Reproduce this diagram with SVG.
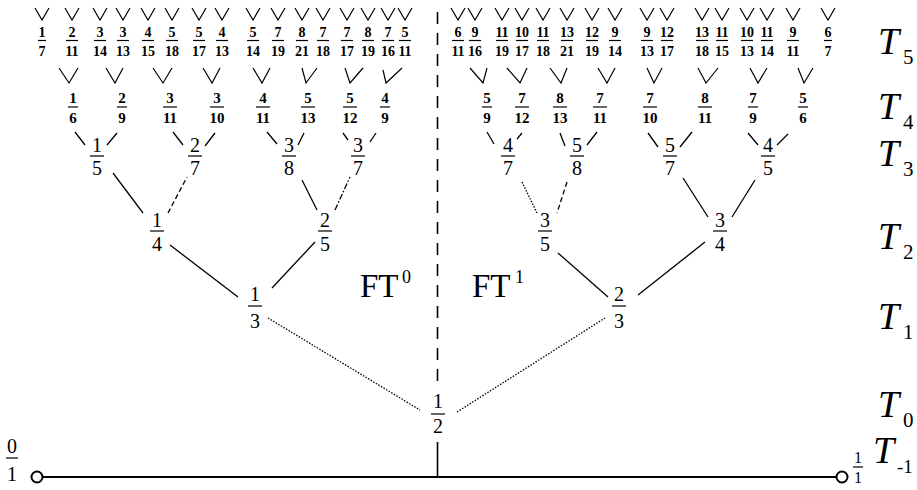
<svg xmlns="http://www.w3.org/2000/svg" width="917" height="490" viewBox="0 0 917 490">
<style>
text{font-family:"Liberation Serif","Times New Roman",serif;fill:#000;text-anchor:middle}
.f5{font-size:14px;font-weight:bold}
.f4{font-size:15px;font-weight:bold}
.f3{font-size:20px}
.fb{stroke:#000;stroke-width:1.2}
.e{stroke:#000;stroke-width:1.3;fill:none}
.dot{stroke-dasharray:1.5 1.5}
.dash{stroke-dasharray:5 3}
.dd{stroke-dasharray:6 2 1.5 2}
.v{stroke:#000;stroke-width:1.2;fill:none}
.T{font-size:38px;font-style:italic;text-anchor:start}
.sub{font-size:21px;text-anchor:start}
.FT{font-size:33px;text-anchor:start}
.sup{font-size:18px;text-anchor:start}
</style>
<rect width="917" height="490" fill="#fff"/>

<g id="connectors">
  <line class="e" x1="43" y1="477" x2="836" y2="477" style="stroke-width:2"/>
  <circle cx="37" cy="477" r="5.5" fill="none" stroke="#000" stroke-width="2"/>
  <circle cx="842" cy="477" r="5.5" fill="none" stroke="#000" stroke-width="2"/>
  <line class="e" x1="437.5" y1="12" x2="437.5" y2="385" style="stroke-dasharray:12 9;stroke-width:1.6"/>
  <line class="e" x1="437.5" y1="442" x2="437.5" y2="477" style="stroke-width:1.6"/>
  <!-- T0-T1 -->
  <line class="e dot" x1="268" y1="318" x2="420" y2="410"/>
  <line class="e dot" x1="457" y1="412" x2="605" y2="318"/>
  <!-- T1-T2 -->
  <line class="e" x1="170" y1="245" x2="238" y2="297"/>
  <line class="e" x1="272" y1="288" x2="315" y2="242"/>
  <line class="e" x1="558" y1="253" x2="608" y2="297"/>
  <line class="e" x1="638" y1="295" x2="705" y2="242"/>
  <!-- T2-T3 -->
  <line class="e" x1="113" y1="173" x2="143" y2="213"/>
  <line class="e dash" x1="168" y1="213" x2="187" y2="177"/>
  <line class="e" x1="302" y1="180" x2="317" y2="210"/>
  <line class="e dd" x1="335" y1="210" x2="350" y2="177"/>
  <line class="e dot" x1="522" y1="182" x2="537" y2="213"/>
  <line class="e dash" x1="567" y1="182" x2="557" y2="213"/>
  <line class="e" x1="683" y1="178" x2="708" y2="217"/>
  <line class="e" x1="755" y1="180" x2="732" y2="217"/>
  <!-- T3-T4 stubs -->
  <path class="e" d="M75,132 L85,145 M107,145 L117,133 M173,132 L183,145 M205,146 L215,133 M267,132 L277,144 M298,145 L304,133 M343,133 L348,140 M370,142 L376,133 M487,132 L494,144 M517,139 L522,133 M560,133 L565,146 M587,145 L597,132 M648,133 L658,147 M680,147 L692,132 M748,133 L758,145 M777,145 L788,134"/>
  <!-- T4-T5 Vs -->
  <path class="v" d="M59,68 L69,83 L78,68 M106,68 L115,83 L123,68 M153,68 L163,83 L172,68 M203,68 L212,83 L220,68 M253,68 L262,83 L270,68 M302,68 L306,83 L317,68 M345,68 L350,83 L363,68 M383,70 L386,83 L402,68 M470,68 L483,83 L487,68 M507,68 L520,83 L527,68 M550,68 L561,83 L567,68 M598,68 L607,83 L615,68 M647,68 L654,83 L662,68 M698,68 L706,83 L718,68 M750,68 L758,83 L767,68 M798,68 L804,83 L813,68"/>
  <!-- T5 Vs -->
  <path class="v" d="M35,8 L42,20 L49,8 M65,8 L72,20 L79,8 M93,8 L100,20 L107,8 M116,8 L123,20 L130,8 M141,8 L148,20 L155,8 M165,8 L172,20 L179,8 M192,8 L199,20 L206,8 M215,8 L222,20 L229,8 M246,8 L253,20 L260,8 M271,8 L278,20 L285,8 M295,8 L302,20 L309,8 M316,8 L323,20 L330,8 M340,8 L347,20 L354,8 M361,8 L368,20 L375,8 M381,8 L388,20 L395,8 M398,8 L405,20 L412,8 M451,8 L458,20 L465,8 M468,8 L475,20 L482,8 M495,8 L502,20 L509,8 M515,8 L522,20 L529,8 M536,8 L543,20 L550,8 M560,8 L567,20 L574,8 M585,8 L592,20 L599,8 M608,8 L615,20 L622,8 M640,8 L647,20 L654,8 M660,8 L667,20 L674,8 M695,8 L702,20 L709,8 M715,8 L722,20 L729,8 M740,8 L747,20 L754,8 M760,8 L767,20 L774,8 M786,8 L793,20 L800,8 M821,8 L828,20 L835,8"/>
</g>

<!-- T5 nodes -->
<g class="f5">
<g id="n1_7"><text x="42" y="37">1</text><line class="fb" x1="38" x2="46" y1="40.5" y2="40.5"/><text x="42" y="56">7</text></g>
<g id="n2_11"><text x="72" y="37">2</text><line class="fb" x1="66" x2="78" y1="40.5" y2="40.5"/><text x="72" y="56">11</text></g>
<g id="n3_14"><text x="100" y="37">3</text><line class="fb" x1="94" x2="106" y1="40.5" y2="40.5"/><text x="100" y="56">14</text></g>
<g id="n3_13"><text x="123" y="37">3</text><line class="fb" x1="117" x2="129" y1="40.5" y2="40.5"/><text x="123" y="56">13</text></g>
<g id="n4_15"><text x="148" y="37">4</text><line class="fb" x1="142" x2="154" y1="40.5" y2="40.5"/><text x="148" y="56">15</text></g>
<g id="n5_18"><text x="172" y="37">5</text><line class="fb" x1="166" x2="178" y1="40.5" y2="40.5"/><text x="172" y="56">18</text></g>
<g id="n5_17"><text x="199" y="37">5</text><line class="fb" x1="193" x2="205" y1="40.5" y2="40.5"/><text x="199" y="56">17</text></g>
<g id="n4_13"><text x="222" y="37">4</text><line class="fb" x1="216" x2="228" y1="40.5" y2="40.5"/><text x="222" y="56">13</text></g>
<g id="n5_14"><text x="253" y="37">5</text><line class="fb" x1="247" x2="259" y1="40.5" y2="40.5"/><text x="253" y="56">14</text></g>
<g id="n7_19"><text x="278" y="37">7</text><line class="fb" x1="272" x2="284" y1="40.5" y2="40.5"/><text x="278" y="56">19</text></g>
<g id="n8_21"><text x="302" y="37">8</text><line class="fb" x1="296" x2="308" y1="40.5" y2="40.5"/><text x="302" y="56">21</text></g>
<g id="n7_18"><text x="323" y="37">7</text><line class="fb" x1="317" x2="329" y1="40.5" y2="40.5"/><text x="323" y="56">18</text></g>
<g id="n7_17"><text x="347" y="37">7</text><line class="fb" x1="341" x2="353" y1="40.5" y2="40.5"/><text x="347" y="56">17</text></g>
<g id="n8_19"><text x="368" y="37">8</text><line class="fb" x1="362" x2="374" y1="40.5" y2="40.5"/><text x="368" y="56">19</text></g>
<g id="n7_16"><text x="388" y="37">7</text><line class="fb" x1="382" x2="394" y1="40.5" y2="40.5"/><text x="388" y="56">16</text></g>
<g id="n5_11"><text x="405" y="37">5</text><line class="fb" x1="399" x2="411" y1="40.5" y2="40.5"/><text x="405" y="56">11</text></g>
<g id="n6_11"><text x="458" y="37">6</text><line class="fb" x1="452" x2="464" y1="40.5" y2="40.5"/><text x="458" y="56">11</text></g>
<g id="n9_16"><text x="475" y="37">9</text><line class="fb" x1="469" x2="481" y1="40.5" y2="40.5"/><text x="475" y="56">16</text></g>
<g id="n11_19"><text x="502" y="37">11</text><line class="fb" x1="496" x2="508" y1="40.5" y2="40.5"/><text x="502" y="56">19</text></g>
<g id="n10_17"><text x="522" y="37">10</text><line class="fb" x1="516" x2="528" y1="40.5" y2="40.5"/><text x="522" y="56">17</text></g>
<g id="n11_18"><text x="543" y="37">11</text><line class="fb" x1="537" x2="549" y1="40.5" y2="40.5"/><text x="543" y="56">18</text></g>
<g id="n13_21"><text x="567" y="37">13</text><line class="fb" x1="561" x2="573" y1="40.5" y2="40.5"/><text x="567" y="56">21</text></g>
<g id="n12_19"><text x="592" y="37">12</text><line class="fb" x1="586" x2="598" y1="40.5" y2="40.5"/><text x="592" y="56">19</text></g>
<g id="n9_14"><text x="615" y="37">9</text><line class="fb" x1="609" x2="621" y1="40.5" y2="40.5"/><text x="615" y="56">14</text></g>
<g id="n9_13"><text x="647" y="37">9</text><line class="fb" x1="641" x2="653" y1="40.5" y2="40.5"/><text x="647" y="56">13</text></g>
<g id="n12_17"><text x="667" y="37">12</text><line class="fb" x1="661" x2="673" y1="40.5" y2="40.5"/><text x="667" y="56">17</text></g>
<g id="n13_18"><text x="702" y="37">13</text><line class="fb" x1="696" x2="708" y1="40.5" y2="40.5"/><text x="702" y="56">18</text></g>
<g id="n11_15"><text x="722" y="37">11</text><line class="fb" x1="716" x2="728" y1="40.5" y2="40.5"/><text x="722" y="56">15</text></g>
<g id="n10_13"><text x="747" y="37">10</text><line class="fb" x1="741" x2="753" y1="40.5" y2="40.5"/><text x="747" y="56">13</text></g>
<g id="n11_14"><text x="767" y="37">11</text><line class="fb" x1="761" x2="773" y1="40.5" y2="40.5"/><text x="767" y="56">14</text></g>
<g id="n9_11"><text x="793" y="37">9</text><line class="fb" x1="787" x2="799" y1="40.5" y2="40.5"/><text x="793" y="56">11</text></g>
<g id="n6_7"><text x="828" y="37">6</text><line class="fb" x1="824" x2="832" y1="40.5" y2="40.5"/><text x="828" y="56">7</text></g>
</g>

<!-- T4 nodes -->
<g class="f4">
<g id="n1_6"><text x="73" y="103">1</text><line class="fb" x1="68" x2="78" y1="107" y2="107"/><text x="73" y="123">6</text></g>
<g id="n2_9"><text x="122" y="103">2</text><line class="fb" x1="117" x2="127" y1="107" y2="107"/><text x="122" y="123">9</text></g>
<g id="n3_11"><text x="170" y="103">3</text><line class="fb" x1="163" x2="177" y1="107" y2="107"/><text x="170" y="123">11</text></g>
<g id="n3_10"><text x="217" y="103">3</text><line class="fb" x1="210" x2="224" y1="107" y2="107"/><text x="217" y="123">10</text></g>
<g id="n4_11"><text x="263" y="103">4</text><line class="fb" x1="256" x2="270" y1="107" y2="107"/><text x="263" y="123">11</text></g>
<g id="n5_13"><text x="308" y="103">5</text><line class="fb" x1="301" x2="315" y1="107" y2="107"/><text x="308" y="123">13</text></g>
<g id="n5_12"><text x="350" y="103">5</text><line class="fb" x1="343" x2="357" y1="107" y2="107"/><text x="350" y="123">12</text></g>
<g id="n4_9"><text x="385" y="103">4</text><line class="fb" x1="380" x2="390" y1="107" y2="107"/><text x="385" y="123">9</text></g>
<g id="n5_9"><text x="487" y="103">5</text><line class="fb" x1="482" x2="492" y1="107" y2="107"/><text x="487" y="123">9</text></g>
<g id="n7_12"><text x="522" y="103">7</text><line class="fb" x1="515" x2="529" y1="107" y2="107"/><text x="522" y="123">12</text></g>
<g id="n8_13"><text x="560" y="103">8</text><line class="fb" x1="553" x2="567" y1="107" y2="107"/><text x="560" y="123">13</text></g>
<g id="n7_11"><text x="600" y="103">7</text><line class="fb" x1="593" x2="607" y1="107" y2="107"/><text x="600" y="123">11</text></g>
<g id="n7_10"><text x="650" y="103">7</text><line class="fb" x1="643" x2="657" y1="107" y2="107"/><text x="650" y="123">10</text></g>
<g id="n8_11"><text x="705" y="103">8</text><line class="fb" x1="698" x2="712" y1="107" y2="107"/><text x="705" y="123">11</text></g>
<g id="n7_9"><text x="753" y="103">7</text><line class="fb" x1="748" x2="758" y1="107" y2="107"/><text x="753" y="123">9</text></g>
<g id="n5_6"><text x="803" y="103">5</text><line class="fb" x1="798" x2="808" y1="107" y2="107"/><text x="803" y="123">6</text></g>
</g>

<!-- T3..T0 nodes -->
<g class="f3">
<g id="n1_5"><text x="97" y="152">1</text><line class="fb" x1="90" x2="104" y1="156" y2="156"/><text x="97" y="175">5</text></g>
<g id="n2_7"><text x="195" y="152">2</text><line class="fb" x1="188" x2="202" y1="156" y2="156"/><text x="195" y="175">7</text></g>
<g id="n3_8"><text x="289" y="152">3</text><line class="fb" x1="282" x2="296" y1="156" y2="156"/><text x="289" y="175">8</text></g>
<g id="n3_7"><text x="358" y="152">3</text><line class="fb" x1="351" x2="365" y1="156" y2="156"/><text x="358" y="175">7</text></g>
<g id="n4_7"><text x="508" y="152">4</text><line class="fb" x1="501" x2="515" y1="156" y2="156"/><text x="508" y="175">7</text></g>
<g id="n5_8"><text x="577" y="152">5</text><line class="fb" x1="570" x2="584" y1="156" y2="156"/><text x="577" y="175">8</text></g>
<g id="n5_7"><text x="670" y="152">5</text><line class="fb" x1="663" x2="677" y1="156" y2="156"/><text x="670" y="175">7</text></g>
<g id="n4_5"><text x="768" y="152">4</text><line class="fb" x1="761" x2="775" y1="156" y2="156"/><text x="768" y="175">5</text></g>
<g id="n1_4"><text x="157" y="227">1</text><line class="fb" x1="150" x2="164" y1="231" y2="231"/><text x="157" y="251">4</text></g>
<g id="n2_5"><text x="325" y="227">2</text><line class="fb" x1="318" x2="332" y1="231" y2="231"/><text x="325" y="251">5</text></g>
<g id="n3_5"><text x="545" y="227">3</text><line class="fb" x1="538" x2="552" y1="231" y2="231"/><text x="545" y="251">5</text></g>
<g id="n3_4"><text x="720" y="227">3</text><line class="fb" x1="713" x2="727" y1="231" y2="231"/><text x="720" y="251">4</text></g>
<g id="n1_3"><text x="255" y="301">1</text><line class="fb" x1="248" x2="262" y1="306" y2="306"/><text x="255" y="328">3</text></g>
<g id="n2_3"><text x="619" y="301">2</text><line class="fb" x1="612" x2="626" y1="306" y2="306"/><text x="619" y="328">3</text></g>
<g id="n1_2"><text x="438" y="408">1</text><line class="fb" x1="431" x2="445" y1="414" y2="414"/><text x="438" y="433">2</text></g>
<g id="n0_1"><text x="12" y="453">0</text><line class="fb" x1="6" x2="18" y1="458" y2="458"/><text x="12" y="481">1</text></g>
<g id="n1_1" style="font-size:16px"><text x="858" y="463">1</text><line class="fb" x1="853" x2="863" y1="467" y2="467"/><text x="858" y="483">1</text></g>
</g>

<!-- labels -->
<g id="labels">
<text class="FT" x="360" y="297">FT</text><text class="sup" x="402" y="283">0</text>
<text class="FT" x="472" y="297">FT</text><text class="sup" x="515" y="283">1</text>
<text class="T" x="878" y="54">T</text><text class="sub" x="903" y="64">5</text>
<text class="T" x="878" y="119">T</text><text class="sub" x="903" y="129">4</text>
<text class="T" x="878" y="166">T</text><text class="sub" x="903" y="176">3</text>
<text class="T" x="878" y="249">T</text><text class="sub" x="903" y="259">2</text>
<text class="T" x="878" y="329">T</text><text class="sub" x="903" y="339">1</text>
<text class="T" x="878" y="417">T</text><text class="sub" x="903" y="427">0</text>
<text class="T" x="873" y="463">T</text><text class="sub" x="897" y="473" style="font-size:19px">-1</text>
</g>
</svg>
